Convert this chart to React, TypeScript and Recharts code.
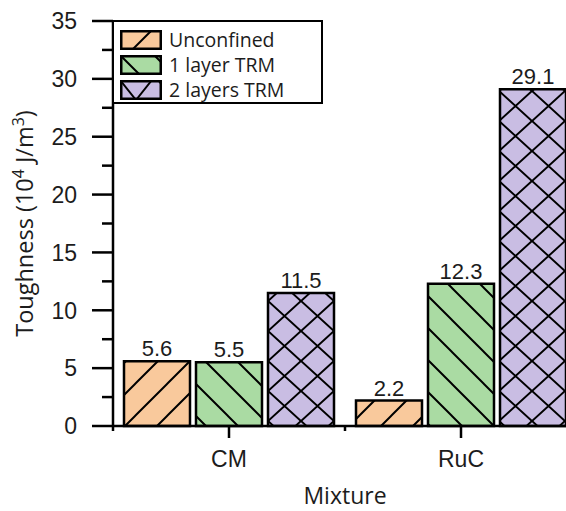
import { BarChart, Bar, XAxis, YAxis, Legend, LabelList } from 'recharts';

const mixtures = ['CM', 'RuC'];
const unconfined = [5.6, 2.2];
const oneLayerTRM = [5.5, 12.3];
const twoLayersTRM = [11.5, 29.1];
const seriesNames = ['Unconfined', '1 layer TRM', '2 layers TRM'];
const yTicks = [0, 2.5, 5, 7.5, 10, 12.5, 15, 17.5, 20, 22.5, 25, 27.5, 30, 32.5, 35];
const yMajorStep = 5;

const data = mixtures.map((m, i) => ({
  name: m,
  unconfined: unconfined[i],
  one: oneLayerTRM[i],
  two: twoLayersTRM[i],
}));

const INK = '#1c1c1c';
const NUM_FONT = '"Liberation Sans", Arial, sans-serif';
const TEXT_FONT = '"Open Sans", "Noto Sans", sans-serif';

const series = [
  { key: 'unconfined', name: seriesNames[0], color: '#f9c99c', hatch: 'fwd', swatch: 'M12,20 L32,0' },
  { key: 'one', name: seriesNames[1], color: '#aadba3', hatch: 'back', swatch: 'M0,0 L20,20 M34,0 L42,8' },
  { key: 'two', name: seriesNames[2], color: '#c9bde3', hatch: 'cross', swatch: 'M0,0 L16,20 L32,0 M38,0 L42,5' },
];

function HatchDefs() {
  return (
    <svg width={0} height={0} style={{ position: 'absolute' }}>
      <defs>
        <pattern id="hatch-fwd" patternUnits="userSpaceOnUse" width={32} height={32} x={7}>
          <rect width={32} height={32} fill={series[0].color} />
          <path d="M0,32 L32,0 M-8,8 L8,-8 M24,40 L40,24" stroke="#000" strokeWidth={2} />
        </pattern>
        <pattern id="hatch-back" patternUnits="userSpaceOnUse" width={32} height={32} x={4}>
          <rect width={32} height={32} fill={series[1].color} />
          <path d="M0,0 L32,32 M-8,24 L8,40 M24,-8 L40,8" stroke="#000" strokeWidth={2} />
        </pattern>
        <pattern id="hatch-cross" patternUnits="userSpaceOnUse" width={33} height={30} x={4} y={1}>
          <rect width={33} height={30} fill={series[2].color} />
          <path d="M0,0 L33,30 M33,0 L0,30" stroke="#000" strokeWidth={2} />
        </pattern>
      </defs>
    </svg>
  );
}

function YTick(props: any) {
  const { x, y, payload } = props;
  const major = payload.value % yMajorStep === 0;
  return (
    <g>
      <line x1={x - (major ? 21 : 11)} x2={x} y1={y} y2={y} stroke="#000" strokeWidth={2.5} />
      {major && (
        <text x={x - 36} y={y} dy="0.36em" textAnchor="end" fontSize={23} fontFamily={NUM_FONT} fill={INK}>
          {payload.value}
        </text>
      )}
    </g>
  );
}

function XTick(props: any) {
  const { x, y, payload, index, visibleTicksCount } = props;
  const half = payload.offset || 0;
  return (
    <g>
      <line x1={x} x2={x} y1={y} y2={y + 12} stroke="#000" strokeWidth={2.5} />
      <line x1={x - half} x2={x - half} y1={y} y2={y + 5} stroke="#000" strokeWidth={2.5} />
      {index === visibleTicksCount - 1 && (
        <line x1={x + half} x2={x + half} y1={y} y2={y + 5} stroke="#000" strokeWidth={2.5} />
      )}
      <text x={x} y={y + 41} textAnchor="middle" fontSize={23} fontFamily={NUM_FONT} fill={INK}>
        {payload.value}
      </text>
    </g>
  );
}

function LegendBox() {
  return (
    <div
      style={{
        boxSizing: 'border-box',
        width: 211,
        height: 84,
        border: '2.5px solid #000',
        background: '#fff',
        padding: '5px 0 0 6px',
      }}
    >
      {series.map((s) => (
        <div key={s.key} style={{ display: 'flex', alignItems: 'center', height: 25 }}>
          <svg width={42} height={20} style={{ display: 'block' }}>
            <rect width={42} height={20} fill={s.color} />
            <path d={s.swatch} stroke="#000" strokeWidth={2} fill="none" />
            <rect x={1.25} y={1.25} width={39.5} height={17.5} fill="none" stroke="#000" strokeWidth={2.5} />
          </svg>
          <span
            style={{
              marginLeft: 7,
              fontFamily: TEXT_FONT,
              fontSize: 19.5,
              color: INK,
              lineHeight: '20px',
            }}
          >
            {s.name}
          </span>
        </div>
      ))}
    </div>
  );
}

function YLabel(props: any) {
  const vb = props.viewBox;
  const cy = vb.y + vb.height / 2;
  const cx = 33;
  return (
    <text
      x={cx}
      y={cy}
      transform={`rotate(-90, ${cx}, ${cy})`}
      textAnchor="middle"
      fontSize={23.5}
      fontFamily={TEXT_FONT}
      fill={INK}
    >
      <tspan>Toughness (10</tspan>
      <tspan dy={-9} fontSize={16}>4</tspan>
      <tspan dy={9}> J/m</tspan>
      <tspan dy={-9} fontSize={16}>3</tspan>
      <tspan dy={9}>)</tspan>
    </text>
  );
}

function XLabel(props: any) {
  const vb = props.viewBox;
  return (
    <text x={vb.x + vb.width / 2} y={vb.y + 78} textAnchor="middle" fontSize={23} fontFamily={TEXT_FONT} fill={INK}>
      Mixture
    </text>
  );
}

export default function App() {
  return (
    <div
      style={{
        position: 'absolute',
        left: 0,
        top: 0,
        width: 566,
        height: 511,
        overflow: 'hidden',
        background: '#fff',
      }}
    >
      <HatchDefs />
      <BarChart
        width={600}
        height={511}
        data={data}
        margin={{ top: 21, right: 23, bottom: 0, left: 0 }}
        barCategoryGap={11}
        barGap={6}
      >
        <XAxis
          dataKey="name"
          height={85}
          interval={0}
          tickSize={0}
          tickMargin={0}
          tickLine={false}
          tick={<XTick />}
          axisLine={{ stroke: '#000', strokeWidth: 2.5 }}
          label={{ content: <XLabel /> }}
        />
        <XAxis
          xAxisId="top"
          dataKey="name"
          orientation="top"
          height={0}
          tick={false}
          tickLine={false}
          axisLine={{ stroke: '#000', strokeWidth: 2.5 }}
        />
        <YAxis
          type="number"
          domain={[0, 35]}
          ticks={yTicks}
          interval={0}
          width={113}
          tickSize={0}
          tickMargin={0}
          tickLine={false}
          tick={<YTick />}
          axisLine={{ stroke: '#000', strokeWidth: 2.5 }}
          label={{ content: <YLabel /> }}
        />
        <Legend
          layout="vertical"
          align="center"
          verticalAlign="middle"
          wrapperStyle={{ left: 112, top: 20, width: 211, height: 84 }}
          content={() => <LegendBox />}
        />
        {series.map((s) => (
          <Bar
            key={s.key}
            dataKey={s.key}
            name={s.name}
            fill={`url(#hatch-${s.hatch})`}
            stroke="#000"
            strokeWidth={2.5}
            isAnimationActive={false}
          >
            <LabelList dataKey={s.key} position="top" offset={5} fontSize={22} fontFamily={NUM_FONT} fill={INK} />
          </Bar>
        ))}
      </BarChart>
    </div>
  );
}
